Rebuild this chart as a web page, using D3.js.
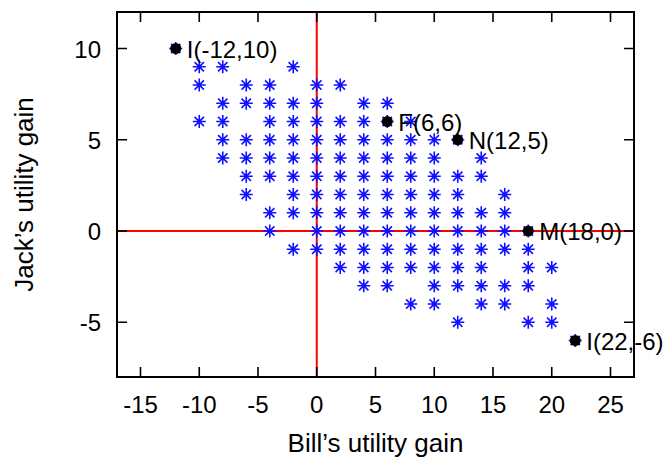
<!DOCTYPE html>
<html>
<head>
<meta charset="utf-8">
<script src="https://cdn.jsdelivr.net/npm/d3@7"></script>
<style>
  body { margin: 0; background: #fff; }
  svg text { font-family: "Liberation Sans", Arial, Helvetica, sans-serif; fill: #000; }
</style>
</head>
<body>
<div class="svg-container"></div>
<script>
// possible outcomes, one row per value of Jack's gain
const rowY = [9, 8, 7, 6, 5, 4, 3, 2, 1, 0, -1, -2, -3, -4, -5, -6]
const rowX = [
  [-10, -8, -2],
  [-10, -6, -4, 0, 2],
  [-8, -6, -4, -2, 0, 4, 6],
  [-10, -8, -4, -2, 0, 2, 4, 6, 8],
  [-8, -6, -4, -2, 0, 2, 4, 6, 8, 10, 12],
  [-8, -6, -4, -2, 0, 2, 4, 6, 8, 10, 14],
  [-6, -4, -2, 0, 2, 4, 6, 8, 10, 12, 14],
  [-6, -2, 0, 2, 4, 6, 8, 10, 12, 16],
  [-4, -2, 0, 2, 4, 6, 8, 10, 12, 14, 16],
  [-4, 0, 2, 4, 6, 8, 10, 12, 14, 16, 18],
  [-2, 0, 2, 4, 6, 8, 10, 12, 14, 16, 18],
  [2, 4, 6, 8, 10, 12, 14, 18, 20],
  [4, 6, 10, 12, 14, 16, 18],
  [8, 10, 14, 16, 20],
  [12, 18, 20],
  [22]
]
// the -12,10 corner also has an outcome under its dot
const extraX = [-12]
const extraY = [10]

// named outcomes
const labelNames = ['I', 'F', 'N', 'M', 'I']
const labelX = [-12, 6, 12, 18, 22]
const labelY = [10, 6, 5, 0, -6]

const xTicks = [-15, -10, -5, 0, 5, 10, 15, 20, 25]
const yTicks = [-5, 0, 5, 10]

const width = 672, height = 460
const margin = {top: 12, right: 38, bottom: 83, left: 117}

const svg = d3.select('.svg-container').append('svg')
  .attr('width', width)
  .attr('height', height)

const x = d3.scaleLinear().domain([-17, 27]).range([margin.left, width - margin.right])
const y = d3.scaleLinear().domain([-8, 12]).range([height - margin.bottom, margin.top])

let points = []
rowY.forEach((yy, i) => rowX[i].forEach(xx => points.push([xx, yy])))
extraX.forEach((xx, i) => points.push([xx, extraY[i]]))

// red zero lines
svg.append('line')
  .attr('x1', x(0)).attr('x2', x(0))
  .attr('y1', y(12)).attr('y2', y(-8))
  .style('stroke', '#f00').style('stroke-width', 2)
svg.append('line')
  .attr('x1', x(-17)).attr('x2', x(27))
  .attr('y1', y(0)).attr('y2', y(0))
  .style('stroke', '#f00').style('stroke-width', 2)

// asterisks
const r = 6.5
const k = r * 0.72
const star = `M${-r},0H${r}M0,${-r}V${r}M${-k},${-k}L${k},${k}M${-k},${k}L${k},${-k}`
svg.selectAll('.pt')
  .data(points)
  .enter()
  .append('path')
  .attr('class', 'pt')
  .attr('transform', d => 'translate(' + x(d[0]) + ',' + y(d[1]) + ')')
  .attr('d', star)
  .style('fill', 'none')
  .style('stroke', '#1010ff')
  .style('stroke-width', 1.6)

// frame and ticks
const plot = svg.append('g')
plot.append('rect')
  .attr('x', x(-17)).attr('y', y(12))
  .attr('width', x(27) - x(-17)).attr('height', y(-8) - y(12))
  .style('fill', 'none').style('stroke', '#000').style('stroke-width', 2)

const tl = 10
plot.selectAll('.xt')
  .data(xTicks)
  .enter()
  .append('path')
  .attr('d', d => `M${x(d)},${y(-8)}v${-tl}M${x(d)},${y(12)}v${tl}`)
  .style('stroke', '#000').style('stroke-width', 1.6)
plot.selectAll('.yt')
  .data(yTicks)
  .enter()
  .append('path')
  .attr('d', d => `M${x(-17)},${y(d)}h${tl}M${x(27)},${y(d)}h${-tl}`)
  .style('stroke', '#000').style('stroke-width', 1.6)

svg.selectAll('.xl')
  .data(xTicks)
  .enter()
  .append('text')
  .attr('x', d => x(d))
  .attr('y', y(-8) + 36)
  .attr('text-anchor', 'middle')
  .style('font-size', '24px')
  .text(d => d)

svg.selectAll('.yl')
  .data(yTicks)
  .enter()
  .append('text')
  .attr('x', x(-17) - 16)
  .attr('y', d => y(d) + 9)
  .attr('text-anchor', 'end')
  .style('font-size', '24px')
  .text(d => d)

svg.append('text')
  .attr('x', x(5))
  .attr('y', 452)
  .attr('text-anchor', 'middle')
  .style('font-size', '26px')
  .text('Bill\u2019s utility gain')

svg.append('text')
  .attr('transform', 'translate(33,' + y(2) + ') rotate(-90)')
  .attr('text-anchor', 'middle')
  .style('font-size', '26px')
  .text('Jack\u2019s utility gain')

// named points
const named = labelNames.map((n, i) => ({name: n, x: labelX[i], y: labelY[i]}))
svg.selectAll('.dot')
  .data(named)
  .enter()
  .append('circle')
  .attr('cx', d => x(d.x))
  .attr('cy', d => y(d.y))
  .attr('r', 5.5)
  .style('fill', '#000')
svg.selectAll('.lab')
  .data(named)
  .enter()
  .append('text')
  .attr('x', d => x(d.x) + 11)
  .attr('y', d => y(d.y) + 9)
  .style('font-size', '24px')
  .text(d => `${d.name}(${d.x},${d.y})`)
</script>
</body>
</html>
